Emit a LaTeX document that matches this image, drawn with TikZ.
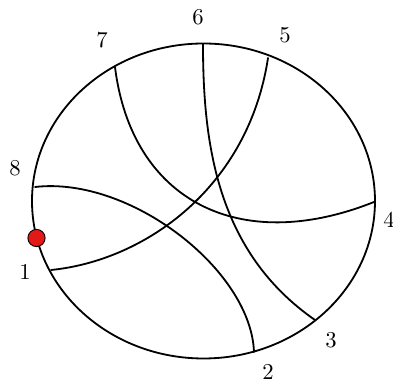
\documentclass[tikz,border=0pt]{standalone}
\definecolor{dotred}{RGB}{225,25,25}

\begin{document}
\begin{tikzpicture}[x=0.0155cm,y=-0.0155cm,line cap=round,thick]
	\useasboundingbox (0,0) rectangle (393,381);
	
	% ---- 边界（椭圆）----
	\coordinate (C) at (203.5,201);
	\draw (C) ellipse (171.5 and 157.5);
	
	% ---- 边界上的端点 ----
	\coordinate (P1) at (51,270);
	\coordinate (P2) at (254,352);
	\coordinate (P3) at (315,320);
	\coordinate (P4) at (374,202);
	\coordinate (P5) at (268,58);
	\coordinate (P6) at (203,44);
	\coordinate (P7) at (115,67);
	\coordinate (P8) at (35,187);
	
	% ---- 四条弦 ----
	\draw (P1) .. controls (146,260.5) and (248.5,186.7) .. (P5);
	\draw (P8) .. controls (130,176) and (251,270) .. (P2);
	\draw (P7) .. controls (131.7,200.7) and (239.2,255.7) .. (P4);
	\draw (P6) .. controls (203,144) and (217,252) .. (P3);
	
	% ---- 编号 ----
	\node (n1) at (25,272) {1};
	\node (n2) at (268,372) {2};
	\node (n3) at (331,340) {3};
	\node (n4) at (389,220) {4};
	\node (n5) at (285,35) {5};
	\node (n6) at (198,17) {6};
	\node (n7) at (102,40) {7};
	\node (n8) at (15,168) {8};
	
	% ---- 红点 ----
	\coordinate (D) at (36.5,238);
	\filldraw[fill=dotred,draw=black,thin] (D) circle (3.8pt);
	
\end{tikzpicture}
\end{document}
